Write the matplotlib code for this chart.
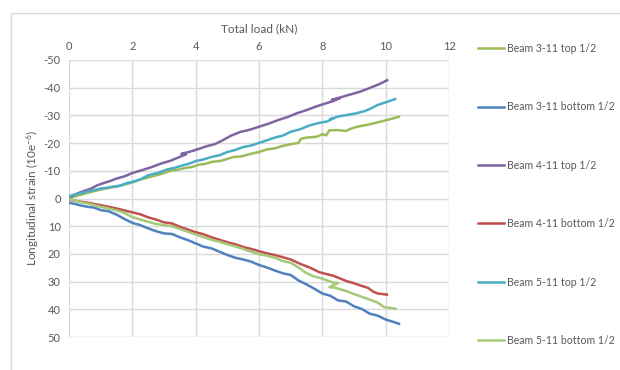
import matplotlib
matplotlib.use("Agg")
import matplotlib.pyplot as plt
from matplotlib.patches import Rectangle

plt.rcParams['font.family'] = ['Lato', 'DejaVu Sans']
plt.rcParams['mathtext.default'] = 'regular'
plt.rcParams['axes.unicode_minus'] = False

# load (kN) / strain (10e-6) per gauge, negative = compression
b311_top_x = [0, 0.2, 0.45, 0.7, 1.0, 1.25, 1.5, 1.75, 2.0, 2.3, 2.6, 2.9, 3.2, 3.45, 3.7, 3.9, 4.1, 4.3, 4.5,
              4.8, 5.0, 5.2, 5.45, 5.7, 6.0, 6.25, 6.5, 6.75, 7.0, 7.25, 7.32, 7.5, 7.75, 7.85, 8.0, 8.12, 8.22,
              8.45, 8.75, 8.9, 9.1, 9.5, 10.0, 10.42]
b311_top_y = [0.0, -0.8, -1.6, -2.4, -3.2, -3.8, -4.3, -5.0, -5.8, -7.0, -7.9, -8.8, -10.0, -10.4, -11.1, -11.4,
              -12.2, -12.5, -13.2, -13.6, -14.3, -15.0, -15.2, -16.0, -16.8, -17.7, -18.1, -19.0, -19.6, -20.1,
              -21.5, -22.0, -22.2, -22.4, -23.2, -22.8, -24.6, -24.7, -24.4, -25.2, -25.9, -26.8, -28.2, -29.5]

b311_bot_x = [0, 0.2, 0.4, 0.6, 0.8, 1.0, 1.25, 1.5, 1.75, 2.0, 2.25, 2.5, 2.75, 3.0, 3.25, 3.5, 3.75, 4.0, 4.25,
              4.5, 4.75, 5.0, 5.25, 5.5, 5.75, 6.0, 6.25, 6.5, 6.75, 7.0, 7.25, 7.5, 7.75, 8.0, 8.25, 8.5, 8.75,
              9.0, 9.25, 9.5, 9.75, 10.0, 10.2, 10.42]
b311_bot_y = [1.5, 2.0, 2.6, 3.0, 3.3, 4.2, 4.6, 5.8, 7.4, 8.8, 9.6, 10.8, 11.8, 12.6, 12.8, 14.0, 15.0, 16.2,
              17.4, 18.0, 19.2, 20.4, 21.4, 22.0, 22.8, 24.0, 24.9, 26.0, 27.0, 27.6, 29.6, 31.0, 32.6, 34.3,
              35.1, 36.8, 37.2, 38.9, 39.9, 41.6, 42.3, 43.7, 44.4, 45.2]

b411_top_x = [0, 0.15, 0.3, 0.5, 0.7, 0.9, 1.1, 1.3, 1.5, 1.75, 2.0, 2.3, 2.6, 2.9, 3.2, 3.45, 3.7, 3.55, 3.85,
              4.1, 4.35, 4.6, 4.85, 5.1, 5.4, 5.7, 6.0, 6.3, 6.6, 6.9, 7.2, 7.5, 7.8, 8.1, 8.35, 8.55, 8.3, 8.6,
              8.9, 9.2, 9.5, 9.8, 10.05]
b411_top_y = [-0.4, -1.2, -2.0, -2.8, -3.6, -4.8, -5.6, -6.3, -7.2, -8.0, -9.2, -10.2, -11.3, -12.6, -13.6,
              -14.8, -16.0, -16.1, -17.0, -17.9, -18.9, -19.6, -21.0, -22.6, -24.0, -24.8, -25.9, -27.0, -28.3,
              -29.4, -30.8, -31.9, -33.2, -34.3, -35.2, -36.2, -35.6, -36.6, -37.6, -38.6, -39.9, -41.3, -42.7]

b411_bot_x = [0, 0.2, 0.4, 0.6, 0.8, 1.0, 1.25, 1.5, 1.75, 2.0, 2.25, 2.5, 2.75, 3.0, 3.25, 3.5, 3.75, 3.95,
              4.25, 4.5, 4.75, 5.0, 5.25, 5.5, 5.75, 6.0, 6.25, 6.5, 6.75, 7.0, 7.3, 7.6, 7.9, 8.1, 8.35, 8.5,
              8.76, 9.0, 9.2, 9.45, 9.6, 9.75, 10.04]
b411_bot_y = [0.4, 0.8, 1.2, 1.5, 2.0, 2.4, 3.0, 3.6, 4.3, 5.0, 5.7, 6.8, 7.6, 8.6, 9.0, 10.2, 11.2, 12.0, 12.9,
              14.0, 14.9, 15.8, 16.5, 17.5, 18.2, 19.0, 19.8, 20.4, 21.2, 22.0, 23.6, 24.9, 26.6, 27.2, 27.9,
              28.6, 29.8, 30.6, 31.4, 32.3, 33.6, 34.3, 34.7]

b511_top_x = [0, 0.2, 0.4, 0.6, 0.8, 1.0, 1.2, 1.4, 1.6, 1.8, 2.0, 2.25, 2.5, 2.8, 3.1, 3.35, 3.6, 3.8, 4.0,
              4.25, 4.5, 4.75, 5.0, 5.25, 5.5, 5.75, 6.0, 6.25, 6.5, 6.75, 7.0, 7.3, 7.6, 7.9, 8.15, 8.35, 8.25,
              8.5, 8.75, 9.05, 9.35, 9.55, 9.75, 10.0, 10.3]
b511_top_y = [-0.8, -1.5, -2.0, -2.6, -3.0, -3.6, -3.9, -4.3, -4.6, -5.5, -6.0, -6.9, -8.4, -9.2, -10.5, -11.1,
              -12.0, -12.6, -13.5, -14.1, -15.0, -15.6, -16.8, -17.5, -18.6, -19.1, -20.1, -21.0, -22.0, -22.7,
              -24.1, -25.0, -26.4, -27.3, -27.8, -29.0, -28.6, -29.6, -30.1, -30.7, -31.6, -32.6, -33.8, -34.7,
              -35.9]

b511_bot_x = [0, 0.2, 0.4, 0.6, 0.8, 1.0, 1.25, 1.5, 1.75, 2.0, 2.25, 2.5, 2.75, 3.0, 3.25, 3.5, 3.75, 4.0,
              4.25, 4.5, 4.75, 5.0, 5.25, 5.5, 5.75, 6.0, 6.25, 6.5, 6.75, 7.0, 7.25, 7.45, 7.7, 8.0, 8.2, 8.35,
              8.5, 8.22, 8.4, 8.75, 9.1, 9.5, 9.75, 9.95, 10.31]
b511_bot_y = [0.2, 0.8, 1.4, 1.8, 2.4, 3.0, 3.6, 4.3, 5.2, 6.7, 7.6, 8.4, 9.2, 9.6, 10.0, 11.0, 12.0, 13.0,
              14.0, 14.9, 15.6, 16.5, 17.3, 18.2, 19.2, 20.1, 20.6, 21.4, 22.6, 23.2, 24.9, 26.6, 28.0, 28.9,
              29.8, 30.4, 30.5, 32.0, 32.2, 33.4, 34.9, 36.5, 37.6, 39.2, 39.8]

series = [
    ("Beam 3-11 top 1/2", b311_top_x, b311_top_y, "#9BBB59"),
    ("Beam 3-11 bottom 1/2", b311_bot_x, b311_bot_y, "#4F81BD"),
    ("Beam 4-11 top 1/2", b411_top_x, b411_top_y, "#8064A2"),
    ("Beam 4-11 bottom 1/2", b411_bot_x, b411_bot_y, "#C0504D"),
    ("Beam 5-11 top 1/2", b511_top_x, b511_top_y, "#4BACC6"),
    ("Beam 5-11 bottom 1/2", b511_bot_x, b511_bot_y, "#A5C979"),
]

W, H = 620, 370
fig = plt.figure(figsize=(W / 100, H / 100), dpi=100)
ax = fig.add_axes([69 / W, 1 - 337 / H, 380 / W, 277 / H])

grid_c = "#D9D9D9"
text_c = "#595959"

lines = []
for name, xs, ys, col in series:
    ln, = ax.plot(xs, ys, color=col, lw=1.8, label=name, solid_joinstyle='round')
    lines.append(ln)

ax.set_xlim(0, 12)
ax.set_ylim(50, -50)
ax.set_xticks(range(0, 13, 2))
ax.set_yticks(range(-50, 51, 10))
ax.xaxis.tick_top()
ax.xaxis.set_label_position('top')
ax.grid(True, color=grid_c, lw=1)
ax.set_axisbelow(True)
for s in ax.spines.values():
    s.set_visible(False)
ax.tick_params(length=0, labelsize=8, labelcolor=text_c, pad=6)
ax.set_xlabel("Total load (kN)", fontsize=8.5, color=text_c, labelpad=6)
ax.set_ylabel("Longitudinal strain (10e$^{-6}$)", fontsize=8.5, color=text_c)
ax.yaxis.set_label_coords(-0.074, 0.5)

# outer chart frame
fig.add_artist(Rectangle((11 / W, -0.1), 1.2, (H - 13) / H + 0.1, transform=fig.transFigure,
                         fill=False, edgecolor=grid_c, lw=1))

fig.legend(handles=lines, labels=[s[0] for s in series], loc='upper left',
           bbox_to_anchor=(478 / W, 1 - 43 / H), frameon=False, fontsize=7.6,
           labelcolor=text_c, handlelength=2.45, handletextpad=0.3, labelspacing=4.49,
           borderaxespad=0, borderpad=0)

fig.savefig("out.png", dpi=100)
